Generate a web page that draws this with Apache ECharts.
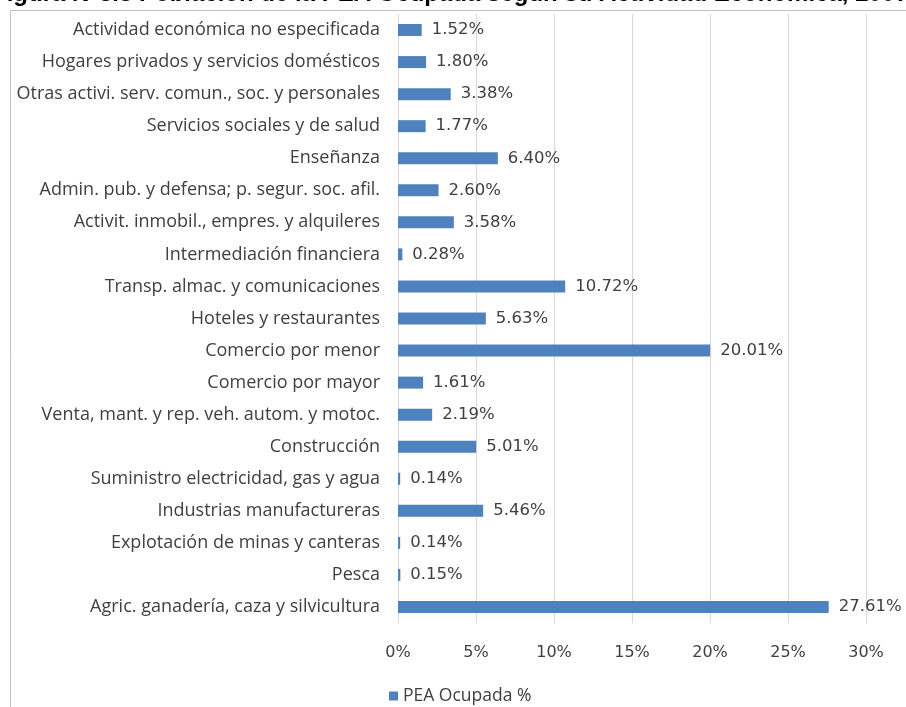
<!DOCTYPE html>
<html>
<head>
<meta charset="utf-8">
<script src="https://cdn.jsdelivr.net/npm/echarts@6/dist/echarts.min.js"></script>
<style>html,body{margin:0;padding:0;background:#fff;}#c{width:906px;height:707px;}</style>
</head>
<body>
<div id="c"></div>
<script>
const titleText = 'Figura N°3.5 Población de la PEA Ocupada según su Actividad Económica, 2007';
const categories = [
  'Actividad económica no especificada',
  'Hogares privados y servicios domésticos',
  'Otras activi. serv. comun., soc. y personales',
  'Servicios sociales y de salud',
  'Enseñanza',
  'Admin. pub. y defensa; p. segur. soc. afil.',
  'Activit. inmobil., empres. y alquileres',
  'Intermediación financiera',
  'Transp. almac. y comunicaciones',
  'Hoteles y restaurantes',
  'Comercio por menor',
  'Comercio por mayor',
  'Venta, mant. y rep. veh. autom. y motoc.',
  'Construcción',
  'Suministro electricidad, gas y agua',
  'Industrias manufactureras',
  'Explotación de minas y canteras',
  'Pesca',
  'Agric. ganadería, caza y silvicultura'
];
const seriesName = 'PEA Ocupada %';
const values = [1.52, 1.80, 3.38, 1.77, 6.40, 2.60, 3.58, 0.28, 10.72, 5.63, 20.01, 1.61, 2.19, 5.01, 0.14, 5.46, 0.14, 0.15, 27.61];

const chart = echarts.init(document.getElementById('c'));
const font = '"Open Sans", sans-serif';
const numFont = '"DejaVu Sans", sans-serif';
chart.setOption({
  animation: false,
  backgroundColor: '#fff',
  graphic: [
    { type: 'rect', shape: { x: 10.5, y: 10.5, width: 1200, height: 1200 }, style: { fill: 'none', stroke: '#bfbfbf', lineWidth: 1 }, silent: true },
    { type: 'text', left: -8, top: -18, style: { text: titleText, font: 'bold 24px "Liberation Sans", Arial, sans-serif', fill: '#000' }, silent: true }
  ],
  grid: { left: 398, right: 40, top: 14, bottom: 84, containLabel: false },
  legend: {
    data: [seriesName], left: 384, top: 682, icon: 'rect', itemWidth: 9, itemHeight: 9, itemGap: 7,
    textStyle: { color: '#404040', fontFamily: font, fontSize: 17.5 }
  },
  xAxis: {
    type: 'value', min: 0, max: 30, interval: 5,
    axisLabel: { formatter: v => v + '%', color: '#404040', fontFamily: numFont, fontSize: 16, margin: 22 },
    axisLine: { show: false }, axisTick: { show: false },
    splitLine: { show: true, lineStyle: { color: '#d9d9d9', width: 1 } }
  },
  yAxis: {
    type: 'category', data: categories, inverse: true,
    axisLine: { show: false }, axisTick: { show: false },
    axisLabel: { color: '#404040', fontFamily: font, fontSize: 18, margin: 18 }
  },
  series: [{
    name: seriesName, type: 'bar', data: values, barWidth: 12,
    itemStyle: { color: '#4f81bd' },
    label: { show: true, position: 'right', distance: 10, formatter: p => p.value.toFixed(2) + '%', color: '#404040', fontFamily: numFont, fontSize: 16.5 }
  }]
});
</script>
</body>
</html>
